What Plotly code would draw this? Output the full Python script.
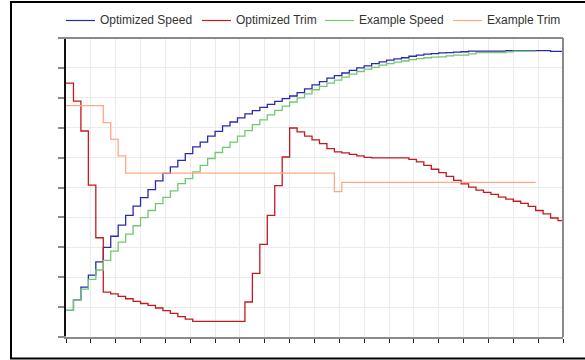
import plotly.graph_objects as go

STEP = 3  # time units per step

opt_speed = [0.89, 1.24, 1.67, 2.07, 2.51, 3.0, 3.37, 3.74, 4.07, 4.38,
             4.66, 4.93, 5.22, 5.47, 5.69, 5.91, 6.13, 6.36, 6.52, 6.72,
             6.88, 7.06, 7.19, 7.33, 7.46, 7.57, 7.68, 7.78, 7.88, 7.97,
             8.06, 8.17, 8.30, 8.43, 8.54, 8.66, 8.74, 8.83, 8.92, 9.00,
             9.07, 9.14, 9.20, 9.26, 9.30, 9.34, 9.39, 9.43, 9.46, 9.48,
             9.50, 9.51, 9.53, 9.54, 9.56, 9.56, 9.56, 9.56, 9.56, 9.58,
             9.58, 9.58, 9.58, 9.58, 9.58, 9.55, 9.55]

opt_trim = [8.49, 7.89, 6.89, 5.08, 3.32, 1.50, 1.44, 1.36, 1.28, 1.19,
            1.12, 1.06, 0.97, 0.88, 0.79, 0.68, 0.60, 0.52, 0.52, 0.52,
            0.52, 0.52, 0.52, 0.52, 1.17, 2.13, 3.10, 4.07, 5.06, 6.02,
            6.99, 6.86, 6.72, 6.59, 6.47, 6.30, 6.19, 6.16, 6.11, 6.06,
            6.01, 5.99, 5.99, 5.99, 5.99, 5.99, 5.94, 5.86, 5.74, 5.61,
            5.50, 5.37, 5.24, 5.12, 5.01, 4.91, 4.84, 4.77, 4.68, 4.61,
            4.54, 4.47, 4.37, 4.23, 4.12, 3.98, 3.89]

ex_speed = [0.89, 1.24, 1.60, 1.93, 2.24, 2.56, 2.87, 3.17, 3.44, 3.72,
            3.99, 4.23, 4.46, 4.67, 4.89, 5.13, 5.30, 5.52, 5.74, 5.97,
            6.17, 6.34, 6.52, 6.72, 6.90, 7.10, 7.26, 7.43, 7.58, 7.72,
            7.86, 8.00, 8.13, 8.27, 8.38, 8.49, 8.59, 8.69, 8.79, 8.88,
            8.96, 9.02, 9.09, 9.14, 9.19, 9.23, 9.28, 9.31, 9.34, 9.36,
            9.37, 9.40, 9.43, 9.43, 9.47, 9.51, 9.51, 9.51, 9.51, 9.54,
            9.56, 9.56, 9.56]

ex_trim = [7.74, 7.74, 7.74, 7.74, 7.74, 7.17, 6.61, 6.06, 5.48, 5.48,
           5.48, 5.48, 5.48, 5.48, 5.48, 5.48, 5.48, 5.48, 5.48, 5.48,
           5.48, 5.48, 5.48, 5.48, 5.48, 5.48, 5.48, 5.48, 5.48, 5.48,
           5.48, 5.48, 5.48, 5.48, 5.48, 5.48, 4.86, 5.17, 5.17, 5.17,
           5.17, 5.17, 5.17, 5.17, 5.17, 5.17, 5.17, 5.17, 5.17, 5.17,
           5.17, 5.17, 5.17, 5.17, 5.17, 5.17, 5.17, 5.17, 5.17, 5.17,
           5.17, 5.17, 5.17]

series_names = ["Optimized Speed", "Optimized Trim", "Example Speed", "Example Trim"]
series_values = [opt_speed, opt_trim, ex_speed, ex_trim]
series_colors = ["#2a2aad", "#c41a1e", "#72c872", "#ffa886"]
legend_line_px = [66, 202, 325, 453]   # legend sample left edge (pixels)


def step_xy(vals):
    xs = [i * STEP for i in range(len(vals) + 1)]
    ys = list(vals) + [vals[-1]]
    return xs, ys


fig = go.Figure()
for name, vals, color in zip(series_names, series_values, series_colors):
    xs, ys = step_xy(vals)
    fig.add_trace(go.Scatter(x=xs, y=ys, name=name, mode="lines",
                             line=dict(color=color, width=1.3, shape="hv")))

W, H = 585, 360
L, R, T, B = 66, 22, 38, 23
pw, ph = W - L - R, H - T - B


def px(x):
    return (x - L) / pw


def py(y):
    return (H - B - y) / ph


shapes = [
    dict(type="line", xref="paper", yref="paper", x0=px(60), x1=1, y0=1, y1=1,
         line=dict(color="#8a8a8a", width=2)),
    dict(type="line", xref="paper", yref="paper", x0=1, x1=1, y0=0, y1=1,
         line=dict(color="#8a8a8a", width=2)),
    dict(type="line", xref="paper", yref="paper", x0=px(60), x1=0, y0=0, y1=0,
         line=dict(color="#8a8a8a", width=2)),
    dict(type="rect", xref="paper", yref="paper", x0=px(11), x1=px(600),
         y0=py(358.5), y1=py(2), line=dict(color="#000000", width=2),
         fillcolor="rgba(0,0,0,0)", layer="above"),
]
annotations = []
for name, color, lx in zip(series_names, series_colors, legend_line_px):
    shapes.append(dict(type="line", xref="paper", yref="paper",
                       x0=px(lx), x1=px(lx + 29), y0=py(20.5), y1=py(20.5),
                       line=dict(color=color, width=1.2)))
    annotations.append(dict(xref="paper", yref="paper", x=px(lx + 32), y=py(20.5),
                            xanchor="left", yanchor="middle", showarrow=False,
                            text=name, font=dict(size=12, color="#333333")))

fig.update_layout(
    width=W, height=H,
    margin=dict(l=L, r=R, t=T, b=B),
    paper_bgcolor="white", plot_bgcolor="white",
    font=dict(family="Liberation Sans, Arial, sans-serif", size=12, color="#333333"),
    showlegend=False,
    xaxis=dict(range=[0, 200], dtick=10, tick0=0, showticklabels=False,
               ticks="outside", ticklen=4, tickcolor="#222222", tickwidth=1,
               showgrid=True, gridcolor="#ebebeb", gridwidth=1,
               showline=True, linecolor="#8a8a8a", linewidth=2, zeroline=False),
    yaxis=dict(range=[0, 10], dtick=1, tick0=0, showticklabels=False,
               ticks="outside", ticklen=6, tickcolor="#8a8a8a", tickwidth=2,
               showgrid=True, gridcolor="#ebebeb", gridwidth=1,
               showline=True, linecolor="#111111", linewidth=1.5, zeroline=False),
    shapes=shapes,
    annotations=annotations,
)

fig.write_html("out.html", config={"displayModeBar": False},
               post_script="document.body.style.margin='0';document.body.style.overflow='hidden';")
